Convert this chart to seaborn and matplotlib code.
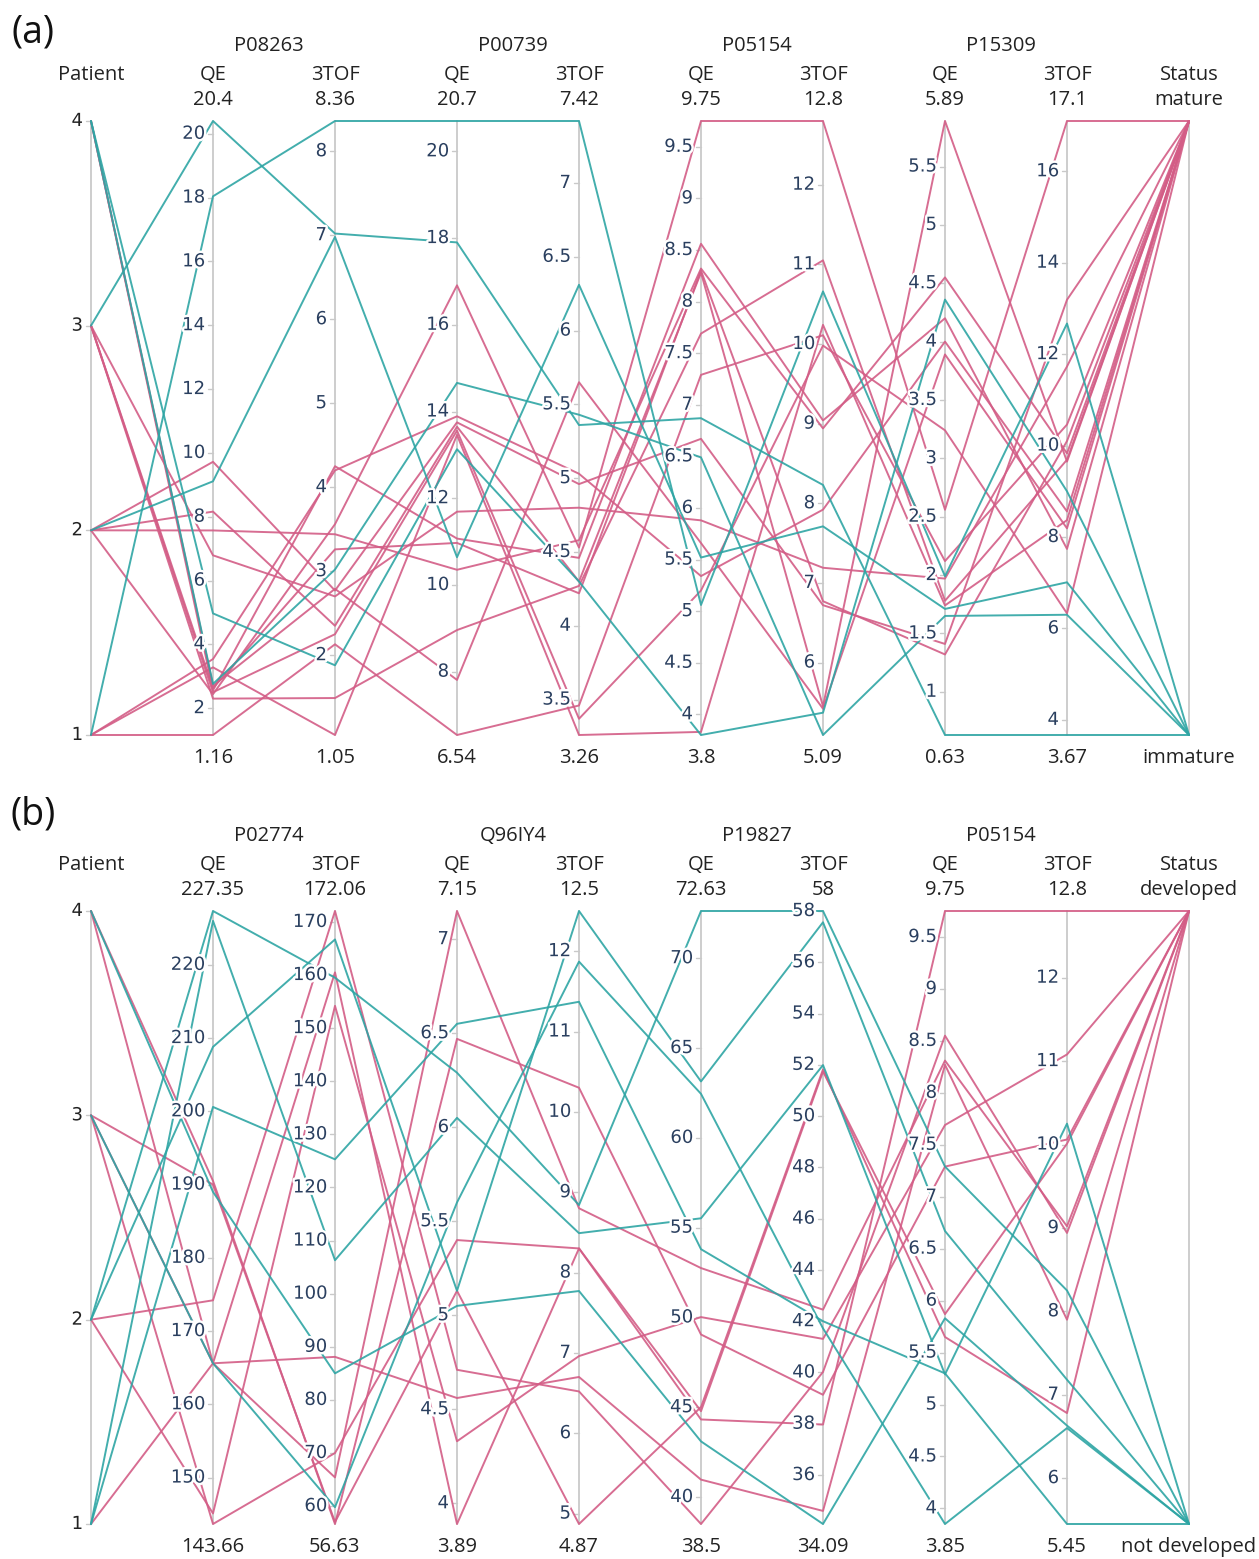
import numpy as np
import pandas as pd
import matplotlib
matplotlib.use("Agg")
import matplotlib.pyplot as plt
import matplotlib.patheffects as pe
from matplotlib.transforms import offset_copy
import seaborn as sns

sns.set_style("white")
plt.rcParams["font.family"] = ["Open Sans", "DejaVu Sans"]

# ---------------- Panel (a) data ----------------
patient_a = [2, 2, 2, 2, 1, 1, 1, 3, 3, 3, 3, 4, 4, 3, 1, 2, 4, 4]
p08263_qe = [9.72, 8.16, 7.57, 2.44, 3.54, 3.28, 1.16, 6.79, 2.63, 2.50, 2.30, 2.70, 2.56, 20.4, 18.04, 9.11, 4.97, 2.76]
p08263_tof = [2.77, 2.35, 3.44, 3.56, 4.20, 1.05, 2.13, 2.70, 3.26, 2.25, 1.49, 2.79, 4.25, 7.02, 8.36, 6.98, 1.88, 3.02]
p00739_qe = [13.75, 13.65, 10.35, 16.91, 13.89, 13.46, 6.54, 11.69, 10.97, 13.56, 8.96, 7.81, 11.07, 17.90, 20.7, 10.64, 13.13, 14.66]
p00739_tof = [4.96, 4.30, 4.58, 4.53, 5.03, 3.26, 3.46, 4.80, 4.22, 3.37, 4.27, 5.65, 4.46, 5.36, 7.42, 6.31, 4.30, 5.43]
p05154_qe_a = [6.67, 8.28, 8.32, 9.75, 5.34, 3.83, 7.29, 5.88, 8.30, 5.20, 7.69, 5.66, 8.56, 6.87, 5.06, 5.52, 3.8, 6.49]
p05154_tof_a = [6.72, 5.45, 8.94, 12.8, 7.92, 10.24, 10.11, 7.19, 6.77, 9.98, 11.05, 5.42, 9.04, 8.23, 10.66, 7.71, 5.37, 5.09]
p15309_qe = [1.41, 5.89, 4.55, 2.56, 4.00, 1.74, 2.12, 1.97, 1.32, 3.24, 1.78, 3.89, 4.20, 0.63, 1.99, 1.71, 4.36, 1.65]
p15309_tof = [13.19, 9.65, 9.83, 17.1, 8.56, 8.37, 10.46, 11.73, 10.10, 6.33, 9.69, 8.19, 7.74, 3.67, 12.67, 7.01, 9.0, 6.30]
status_a = ["mature"] * 13 + ["immature"] * 5

groups_a = ["P08263", "P00739", "P05154", "P15309"]
ranges_a = [(1, 4), (1.16, 20.4), (1.05, 8.36), (6.54, 20.7), (3.26, 7.42),
            (3.8, 9.75), (5.09, 12.8), (0.63, 5.89), (3.67, 17.1)]
top_text_a = ["", "20.4", "8.36", "20.7", "7.42", "9.75", "12.8", "5.89", "17.1", "mature"]
bottom_text_a = ["", "1.16", "1.05", "6.54", "3.26", "3.8", "5.09", "0.63", "3.67", "immature"]
ticks_a = [
    [1, 2, 3, 4],
    [2, 4, 6, 8, 10, 12, 14, 16, 18, 20],
    [2, 3, 4, 5, 6, 7, 8],
    [8, 10, 12, 14, 16, 18, 20],
    [3.5, 4, 4.5, 5, 5.5, 6, 6.5, 7],
    [4, 4.5, 5, 5.5, 6, 6.5, 7, 7.5, 8, 8.5, 9, 9.5],
    [6, 7, 8, 9, 10, 11, 12],
    [1, 1.5, 2, 2.5, 3, 3.5, 4, 4.5, 5, 5.5],
    [4, 6, 8, 10, 12, 14, 16],
    [],
]

# ---------------- Panel (b) data ----------------
patient_b = [2, 2, 4, 1, 3, 3, 4, 3, 2, 1, 2, 1, 4, 3]
p02774_qe = [174.2, 145.1, 165.6, 165.6, 165.6, 143.66, 190.5, 190.0, 227.35, 226.0, 208.8, 200.6, 189.0, 165.6]
p02774_tof = [172.06, 154.2, 160.5, 88.1, 65.4, 70.0, 56.63, 57.0, 159.5, 106.3, 166.7, 125.3, 85.0, 59.8]
q96iy4_qe = [4.71, 4.33, 3.89, 4.56, 7.15, 5.40, 6.47, 5.13, 6.29, 6.05, 5.13, 6.55, 5.05, 5.6]
q96iy4_tof = [6.52, 6.96, 8.30, 6.70, 8.80, 8.30, 10.30, 4.87, 8.84, 8.49, 12.5, 11.37, 7.77, 11.87]
p19827_qe = [38.5, 50.02, 44.78, 40.97, 52.75, 44.32, 49.05, 45.01, 72.63, 55.52, 63.14, 53.8, 43.1, 62.45]
p19827_tof = [40.02, 41.31, 51.74, 34.6, 42.45, 37.97, 39.13, 51.82, 58.0, 51.99, 57.56, 42.0, 34.09, 41.72]
p05154_qe_b = [8.55, 7.69, 5.87, 8.27, 8.31, 9.75, 7.29, 5.65, 7.29, 5.29, 6.67, 5.30, 5.83, 3.85]
p05154_tof_b = [8.94, 11.08, 10.01, 7.90, 9.02, 12.8, 10.06, 6.78, 8.25, 10.25, 7.18, 5.45, 6.63, 6.6]
status_b = ["developed"] * 8 + ["not developed"] * 6

groups_b = ["P02774", "Q96IY4", "P19827", "P05154"]
ranges_b = [(1, 4), (143.66, 227.35), (56.63, 172.06), (3.89, 7.15), (4.87, 12.5),
            (38.5, 72.63), (34.09, 58), (3.85, 9.75), (5.45, 12.8)]
top_text_b = ["", "227.35", "172.06", "7.15", "12.5", "72.63", "58", "9.75", "12.8", "developed"]
bottom_text_b = ["", "143.66", "56.63", "3.89", "4.87", "38.5", "34.09", "3.85", "5.45", "not developed"]
ticks_b = [
    [1, 2, 3, 4],
    [150, 160, 170, 180, 190, 200, 210, 220],
    [60, 70, 80, 90, 100, 110, 120, 130, 140, 150, 160, 170],
    [4, 4.5, 5, 5.5, 6, 6.5, 7],
    [5, 6, 7, 8, 9, 10, 11, 12],
    [40, 45, 50, 55, 60, 65, 70],
    [36, 38, 40, 42, 44, 46, 48, 50, 52, 54, 56, 58],
    [4, 4.5, 5, 5.5, 6, 6.5, 7, 7.5, 8, 8.5, 9, 9.5],
    [6, 7, 8, 9, 10, 11, 12],
    [],
]

names = ["Patient", "QE", "3TOF", "QE", "3TOF", "QE", "3TOF", "QE", "3TOF", "Status"]

PINK = "#d35d86"
TEAL = "#2ea5a4"
TICK_COLOR = "#2a3f5f"
W, H = 1259, 1559

fig = plt.figure(figsize=(W / 100, H / 100), dpi=100)


def make_axes(top_px, bottom_px):
    left = 91 / W
    width = (1189 - 91) / W
    bottom = (H - bottom_px) / H
    height = (bottom_px - top_px) / H
    return fig.add_axes([left, bottom, width, height])


def draw_panel(ax, columns, status, levels, ranges, ticks, groups, top_text, bottom_text):
    rows = []
    n_dims = len(columns)
    for i in range(len(status)):
        for j, col in enumerate(columns):
            lo, hi = ranges[j]
            rows.append({"line": i, "pos": j, "norm": (col[i] - lo) / (hi - lo), "status": status[i]})
        rows.append({"line": i, "pos": n_dims, "norm": 1.0 if status[i] == levels[0] else 0.0,
                     "status": status[i]})
    df = pd.DataFrame(rows)

    n_axes = n_dims + 1
    for j in range(n_axes):
        ax.plot([j, j], [0, 1], color="#c9c9c9", lw=1.3, zorder=1, clip_on=False)

    sns.lineplot(data=df, x="pos", y="norm", hue="status", units="line", estimator=None,
                 palette={levels[0]: PINK, levels[1]: TEAL}, linewidth=1.4, alpha=0.9,
                 legend=False, ax=ax, zorder=2)
    for ln in ax.lines:
        ln.set_clip_on(False)

    ax.set_xlim(0, n_axes - 1)
    ax.set_ylim(0, 1)
    ax.axis("off")

    px = (n_axes - 1) / (1189 - 91)
    halo = [pe.withStroke(linewidth=3.5, foreground="white")]
    tick_tr = offset_copy(ax.transData, fig=fig, x=-8, y=0, units="dots")
    for j in range(n_axes - 1):
        lo, hi = ranges[j]
        for t in ticks[j]:
            y = (t - lo) / (hi - lo)
            ax.plot([j - 5 * px, j], [y, y], color="#c9c9c9", lw=1.0, zorder=1, clip_on=False)
            color = "#222222" if j == 0 else TICK_COLOR
            ax.text(j, y, f"{t:g}", transform=tick_tr, ha="right", va="center",
                    fontsize=13, color=color, family=["DejaVu Sans"], zorder=5,
                    path_effects=halo)

    hdr = dict(ha="center", va="center", fontsize=14.5, color="#222222", clip_on=False)
    name_tr = offset_copy(ax.transData, fig=fig, x=0, y=46, units="dots")
    top_tr = offset_copy(ax.transData, fig=fig, x=0, y=21, units="dots")
    grp_tr = offset_copy(ax.transData, fig=fig, x=-5, y=75, units="dots")
    bot_tr = offset_copy(ax.transData, fig=fig, x=0, y=-23, units="dots")
    for j in range(n_axes):
        ax.text(j, 1, names[j], transform=name_tr, **hdr)
        if top_text[j]:
            ax.text(j, 1, top_text[j], transform=top_tr, **hdr)
        if bottom_text[j]:
            ax.text(j, 0, bottom_text[j], transform=bot_tr, **hdr)
    for k, g in enumerate(groups):
        ax.text(1.5 + 2 * k, 1, g, transform=grp_tr, **hdr)


ax_a = make_axes(121, 735)
draw_panel(ax_a,
           [patient_a, p08263_qe, p08263_tof, p00739_qe, p00739_tof,
            p05154_qe_a, p05154_tof_a, p15309_qe, p15309_tof],
           status_a, ["mature", "immature"], ranges_a, ticks_a, groups_a,
           top_text_a, bottom_text_a)

ax_b = make_axes(911, 1524)
draw_panel(ax_b,
           [patient_b, p02774_qe, p02774_tof, q96iy4_qe, q96iy4_tof,
            p19827_qe, p19827_tof, p05154_qe_b, p05154_tof_b],
           status_b, ["developed", "not developed"], ranges_b, ticks_b, groups_b,
           top_text_b, bottom_text_b)

fig.text(33 / W, 1 - 32 / H, "(a)", ha="center", va="center", fontsize=27, color="#111111")
fig.text(33 / W, 1 - 814 / H, "(b)", ha="center", va="center", fontsize=27, color="#111111")

fig.savefig("out.png", dpi=100)
